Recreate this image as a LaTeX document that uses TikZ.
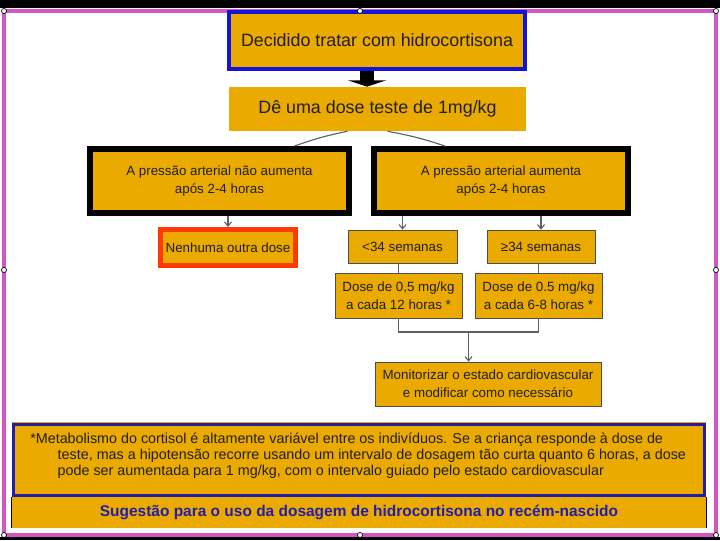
\documentclass[tikz,border=0pt]{standalone}
\usepackage{fontspec}
\setmainfont{Liberation Sans}
\usetikzlibrary{arrows.meta,calc}
\definecolor{boxfill}{RGB}{235,170,0}
\definecolor{framecol}{RGB}{212,84,196}
\definecolor{bluecol}{RGB}{20,20,215}
\definecolor{notecol}{RGB}{35,30,170}
\definecolor{redcol}{RGB}{255,58,0}
\definecolor{linecol}{RGB}{95,95,95}
\def\u{0.025cm}
\begin{document}
\begin{tikzpicture}[
  x=\u, y=-\u,
  size/.style args={#1x#2}{minimum width=#1*\u,minimum height=#2*\u},
  box/.style={rectangle,fill=boxfill,align=center,inner sep=0pt,
              text=black!88,font=\fontsize{9.5}{13}\selectfont},
  bigbox/.style={box,font=\fontsize{12.7}{15}\selectfont},
  topbox/.style={bigbox,draw=bluecol,line width=2.8pt},
  pabox/.style ={box,draw=black,line width=4.2pt},
  stopbox/.style={box,draw=redcol,line width=3.6pt},
  gabox/.style ={box,draw=black!70,line width=0.5pt},
  conn/.style  ={linecol,line width=0.8pt},
  fatarrow/.style={black,line width=10.5pt,
                   -{Triangle[length=4.5pt,width=27pt]}},
  handle/.style={draw=black,fill=white,line width=0.5pt},
  >={Straight Barb[length=3pt,width=5pt]}
]
\useasboundingbox (0,0) rectangle (720,540);
\fill[black] (0,0) rectangle (720,8);
\fill[black] (0,537) rectangle (720,540);
\draw[framecol,line width=2.8pt] (4,11) rectangle (716,535);

\node[topbox,size=296x57]  (decide)  at (377,40.5)  {Decidido tratar com hidrocortisona};
\node[bigbox,size=297x44]  (test)    at (377.5,109) {Dê uma dose teste de 1mg/kg};
\node[pabox,size=259x64]   (panao)   at (219.5,181) {A pressão arterial não aumenta\\após 2-4 horas};
\node[pabox,size=254x64]   (pasim)   at (501,181)   {A pressão arterial aumenta\\após 2-4 horas};
\node[stopbox,size=135x36] (stop)    at (228,247.5) {Nenhuma outra dose};
\node[gabox,size=109x33]   (lt34)    at (402.5,246.5) {<34 semanas};
\node[gabox,size=108x33]   (ge34)    at (541,246.5) {≥34 semanas};
\node[gabox,size=127x45]   (dose12)  at (398.5,295.5) {Dose de 0,5 mg/kg\\a cada 12 horas *};
\node[gabox,size=127x45]   (dose68)  at (538.5,295.5) {Dose de 0.5 mg/kg\\a cada 6-8 horas *};
\node[gabox,size=226x44]   (monitor) at (488,384)   {Monitorizar o estado cardiovascular\\e modificar como necessário};

\draw[fatarrow] ([shift={(-10,0)}]decide.south) -- ([shift={(-10.5,0)}]test.north);
\draw[conn] ([shift={(-30,0)}]test.south) to[bend right=4] ([shift={(75,0)}]panao.north);
\draw[conn] ([shift={(10,0)}]test.south) to[bend left=4] ([shift={(-56,0)}]pasim.north);
\draw[conn,->] (panao.south -| stop) -- (stop.north);
\draw[conn,->] (pasim.south -| lt34) -- (lt34.north);
\draw[conn,->] (pasim.south -| ge34) -- (ge34.north);
\draw[conn] (lt34.south -| dose12) -- (dose12.north);
\draw[conn] (ge34.south -| dose68) -- (dose68.north);
\coordinate (join) at (468.5,332);
\draw[conn] (dose12.south) |- (join) -| (dose68.south);
\draw[conn,->] (join) -- (join |- monitor.north);

% nota de rodape
\fill[boxfill] (12,422) rectangle (706,528);
\node[box,draw=notecol,line width=2.1pt,size=691x71,fill=none] (note) at (359,460) {};
\node[anchor=north west,align=left,inner sep=0pt,text=black!88,
      font=\fontsize{10.2}{11.2}\selectfont] (notetext) at (30,433)
  {*Metabolismo do cortisol é altamente variável entre os indivíduos. Se a criança responde à dose de\\
   \hspace*{19.5pt}teste, mas a hipotensão recorre usando um intervalo de dosagem tão curta quanto 6 horas, a dose\\
   \hspace*{19.5pt}pode ser aumentada para 1 mg/kg, com o intervalo guiado pelo estado cardiovascular};
\node[box,size=694x31,text=notecol,font=\fontsize{11}{13}\bfseries] (caption) at (359,512.5)
  {Sugestão para o uso da dosagem de hidrocortisona no recém-nascido};
\draw[black,line width=0.6pt] (caption.north west) -- (caption.south west);
\draw[black,line width=0.6pt] (caption.north east) -- (caption.south east);

\foreach \hx/\hy in {4/11,360/11,716/11,4/270,716/270,4/535,360/535,716/535}
  \draw[handle] (\hx,\hy) circle (1.8pt);
\end{tikzpicture}
\end{document}
